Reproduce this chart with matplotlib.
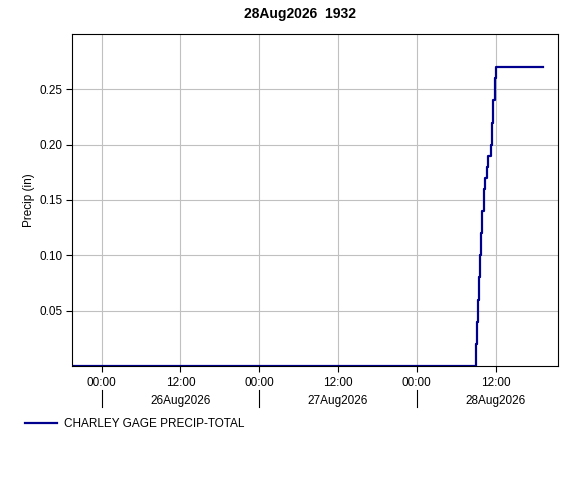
import matplotlib
matplotlib.use("Agg")
import matplotlib.pyplot as plt
import matplotlib.dates as mdates
from matplotlib.lines import Line2D
from matplotlib.transforms import blended_transform_factory
import pandas as pd

plt.rcParams['font.family'] = ['Liberation Sans', 'DejaVu Sans']

# cumulative precip, 28Aug2026 storm (10-min data)
rise_times = ["09:00", "09:10", "09:20", "09:30", "09:40", "09:50", "10:00",
              "10:10", "10:20", "10:30", "10:40", "10:50", "11:00", "11:10",
              "11:20", "11:30", "11:40", "11:50", "12:00", "12:10"]
rise_vals = [0.00, 0.02, 0.04, 0.06, 0.08, 0.10, 0.12, 0.14, 0.16, 0.17,
             0.17, 0.18, 0.19, 0.19, 0.19, 0.20, 0.22, 0.24, 0.26, 0.27]
start_time = "2026-08-25 19:30"
end_time = "2026-08-28 19:15"
view_end = "2026-08-28 21:30"

times = [pd.Timestamp(start_time)] + [pd.Timestamp("2026-08-28 " + t) for t in rise_times] + [pd.Timestamp(end_time)]
vals = [0.0] + rise_vals + [rise_vals[-1]]

tick_times = pd.date_range("2026-08-26 00:00", "2026-08-28 12:00", freq="12h")
tick_labels = [t.strftime("%H:%M") for t in tick_times]
day_labels = ["26Aug2026", "27Aug2026", "28Aug2026"]
yticks = [0.05, 0.10, 0.15, 0.20, 0.25]

fs = 8.5
fig = plt.figure(figsize=(5.84, 4.88), dpi=100)
ax = fig.add_axes([72/584, 1-366/488, (558-72)/584, (366-34)/488])

line, = ax.plot(times, vals, color='#00008f', lw=1.6, drawstyle='steps-pre')

ax.set_xlim(pd.Timestamp(start_time), pd.Timestamp(view_end))
ax.set_ylim(0, 0.30)
ax.set_xticks(tick_times)
ax.set_xticklabels(tick_labels)
ax.set_yticks(yticks)
ax.set_yticklabels(["%.2f" % v for v in yticks])
ax.grid(True, color='#c0c0c0', lw=0.8)
ax.set_axisbelow(True)
ax.tick_params(labelsize=fs, length=4, width=0.8, color='black', pad=4)
ax.tick_params(axis='y', pad=3)
for s in ax.spines.values():
    s.set_linewidth(0.8)

trans = blended_transform_factory(ax.transData, ax.transAxes)
for i, d in enumerate(day_labels):
    noon = mdates.date2num(pd.Timestamp("2026-08-%d 12:00" % (26 + i)))
    ax.text(noon, -0.104, d, transform=trans, ha='center', va='center', fontsize=fs)
    midnight = mdates.date2num(pd.Timestamp("2026-08-%d 00:00" % (26 + i)))
    ax.add_line(Line2D([midnight, midnight], [-0.072, -0.124], transform=trans,
                       color='black', lw=0.8, clip_on=False))

ax.set_ylabel("Precip (in)", fontsize=fs, labelpad=3)
fig.text(300/584, 1-14/488, "28Aug2026  1932", ha='center', va='center',
         fontsize=10, fontweight='bold')

fig.legend([line], ["CHARLEY GAGE PRECIP-TOTAL"], loc='center left',
           bbox_to_anchor=(14/584, 1-424/488), frameon=False, fontsize=fs,
           handlelength=2.7, handletextpad=0.65)

plt.savefig("out.png", dpi=100)
plt.close()
